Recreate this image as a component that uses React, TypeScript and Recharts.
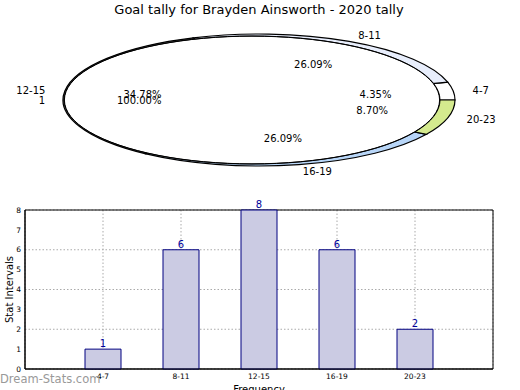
import { PieChart, Pie, Cell, BarChart, Bar, XAxis, YAxis, CartesianGrid, LabelList, Label, ReferenceArea } from "recharts";

const categories = ["4-7", "8-11", "12-15", "16-19", "20-23"];
const counts = [1, 6, 8, 6, 2];
const sliceColors = ["#ffffff", "#e8eefc", "#6e6e6e", "#b8d6f8", "#d4ea8e"];
const overlayNames = ["1"];
const overlayValues = [1];
const yTicks = [0, 1, 2, 3, 4, 5, 6, 7, 8];
const xTicks = categories.map((_, i) => i + 1);

const data = categories.map((cat, i) => ({ x: i + 1, cat, value: counts[i] }));
const overlayData = overlayNames.map((name, i) => ({ name, value: overlayValues[i] }));

const FONT = "'DejaVu Sans', sans-serif";
const RAD = Math.PI / 180;

// ellipse squash factors (pie is drawn round, then flattened with css)
const UNDER_KY = 66 / 196;
const OVER_KY = 64 / 188;

const css = `
body { margin: 0; }
.pie-under path.recharts-sector { transform-box: view-box; transform-origin: 259px 100px; transform: scaleY(${UNDER_KY}); vector-effect: non-scaling-stroke; }
.pie-over path.recharts-sector { transform-box: view-box; transform-origin: 252px 100px; transform: scaleY(${OVER_KY}); vector-effect: non-scaling-stroke; }
`;

function pieLabel(ky: number) {
  return (p: any) => {
    const c = Math.cos(-p.midAngle * RAD);
    const s = Math.sin(-p.midAngle * RAD);
    const R = p.outerRadius;
    const name = p.name ?? p.payload?.cat ?? p.payload?.name;
    return (
      <g key={`lbl-${p.index}`} fontFamily={FONT} fontSize={10} fill="#000">
        <text x={p.cx + 1.1 * R * c} y={p.cy + 1.1 * R * ky * s} textAnchor={c >= 0 ? "start" : "end"} dominantBaseline="central">
          {name}
        </text>
        <text x={p.cx + 0.6 * R * c} y={p.cy + 0.6 * R * ky * s} textAnchor="middle" dominantBaseline="central">
          {(p.percent * 100).toFixed(2)}%
        </text>
      </g>
    );
  };
}

const pieBox = { position: "absolute" as const, left: 0, top: 0 };
const noMargin = { top: 0, right: 0, bottom: 0, left: 0 };

export default function App() {
  return (
    <div style={{ position: "relative", width: 520, height: 390, background: "#fff", overflow: "hidden" }}>
      <style>{css}</style>

      <div style={{ position: "absolute", left: 0, top: 2, width: 518, textAlign: "center", fontFamily: FONT, fontSize: 13, lineHeight: "16px", color: "#000" }}>
        Goal tally for Brayden Ainsworth - 2020 tally
      </div>

      {/* underlying pie, only its rim shows */}
      <div className="pie-under" style={pieBox}>
        <PieChart width={520} height={195} margin={noMargin}>
          <Pie data={data} dataKey="value" nameKey="cat" cx={259} cy={100} outerRadius={196} startAngle={0} endAngle={360}
            stroke="#000" strokeWidth={1.2} label={false} labelLine={false} isAnimationActive={false}>
            {data.map((_, i) => (
              <Cell key={i} fill={sliceColors[i % sliceColors.length]} />
            ))}
          </Pie>
        </PieChart>
      </div>

      {/* white overlay pie, its outline is a hair-thin ring so no radius line shows */}
      <div className="pie-over" style={pieBox}>
        <PieChart width={520} height={195} margin={noMargin}>
          <Pie data={overlayData} dataKey="value" nameKey="name" cx={252} cy={100} outerRadius={188} startAngle={0} endAngle={360}
            fill="#fff" stroke="none" label={pieLabel(OVER_KY)} labelLine={false} isAnimationActive={false} />
          <Pie data={overlayData} dataKey="value" nameKey="name" cx={252} cy={100} innerRadius={187.6} outerRadius={188} startAngle={0} endAngle={360}
            fill="none" stroke="#000" strokeWidth={1} label={false} labelLine={false} isAnimationActive={false} />
        </PieChart>
      </div>

      {/* labels of the underlying pie drawn on top */}
      <div style={pieBox}>
        <PieChart width={520} height={195} margin={noMargin}>
          <Pie data={data} dataKey="value" nameKey="cat" cx={259} cy={100} outerRadius={196} startAngle={0} endAngle={360}
            fill="none" stroke="none" label={pieLabel(UNDER_KY)} labelLine={false} isAnimationActive={false} />
        </PieChart>
      </div>

      <div style={{ position: "absolute", left: 0, top: 195 }}>
        <BarChart width={520} height={195} data={data} margin={{ top: 15, right: 27, bottom: 0, left: 0 }}>
          <XAxis dataKey="x" type="number" domain={[0, 6]} ticks={xTicks} tickFormatter={(v) => categories[v - 1] ?? ""}
            height={21} tickLine={false} tickSize={0} tickMargin={5} allowDataOverflow
            axisLine={{ stroke: "#000" }} tick={{ fontSize: 7.5, fill: "#000", fontFamily: FONT }}>
            <Label value="Frequency" position="insideBottom" offset={-3} style={{ fontSize: 10, fill: "#000", fontFamily: FONT }} />
          </XAxis>
          <YAxis width={25} domain={[0, 8]} ticks={yTicks} tickLine={false} tickSize={0} tickMargin={4}
            axisLine={{ stroke: "#000" }} tick={{ fontSize: 7.5, fill: "#000", fontFamily: FONT }}>
            <Label
              content={({ viewBox }: any) => {
                const cx = viewBox.x + 9;
                const cy = viewBox.y + viewBox.height / 2;
                return (
                  <text x={cx} y={cy} transform={`rotate(-90, ${cx}, ${cy})`} textAnchor="middle" dominantBaseline="central"
                    fontSize={10} fontFamily={FONT} fill="#000">
                    Stat Intervals
                  </text>
                );
              }}
            />
          </YAxis>
          <Bar dataKey="value" barSize={36} fill="#cbcbe3" stroke="#000080" strokeWidth={1} isAnimationActive={false}>
            <LabelList dataKey="value" position="top" offset={2} style={{ fontSize: 10, fill: "#00009a", fontFamily: FONT }} />
          </Bar>
          <CartesianGrid stroke="#aaaaaa" strokeDasharray="1.5 2" />
          <ReferenceArea x1={0} x2={6} y1={0} y2={8} fill="none" stroke="#000" strokeWidth={1} ifOverflow="visible" />
        </BarChart>
      </div>

      <div style={{ position: "absolute", left: 0, top: 372, fontFamily: FONT, fontSize: 11.5, color: "#999", lineHeight: "14px" }}>
        Dream-Stats.com
      </div>
    </div>
  );
}
